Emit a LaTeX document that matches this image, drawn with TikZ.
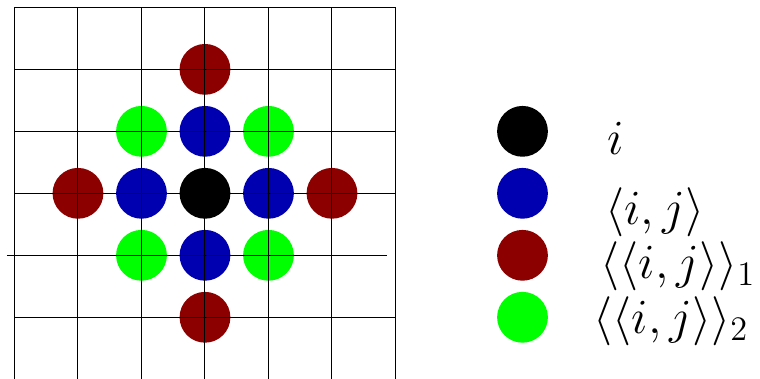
\RequirePackage{fix-cm}
\documentclass[tikz,border=0pt]{standalone}
\usepackage{amsmath}
\definecolor{nnblue}{rgb}{0,0,0.69}
\definecolor{nnred}{rgb}{0.55,0,0}
\definecolor{nngreen}{rgb}{0,1,0}
\tikzset{
  site/.style={circle, inner sep=0pt, minimum size=0.8cm},
  gridline/.style={black, line width=0.45pt},
  lbl/.style={anchor=base west, inner sep=0pt, font=\fontsize{22}{26}\selectfont}
}
\begin{document}
\begin{tikzpicture}[x=1cm, y=0.976cm]
  \useasboundingbox (-3.228,-2.98) rectangle (8.74,3.119);

  %% --- 格子上のサイト ---
  \node[site, fill=black] (c) at (0,0) {};
  %% 最近接 <i,j>
  \foreach \dx/\dy [count=\k] in {1/0, 0/1, -1/0, 0/-1}
    \node[site, fill=nnblue] (b\k) at (\dx,\dy) {};
  %% 第二近接 <<i,j>>_2
  \foreach \dx/\dy [count=\k] in {1/1, -1/1, -1/-1, 1/-1}
    \node[site, fill=nngreen] (g\k) at (\dx,\dy) {};
  %% 第三近接 <<i,j>>_1
  \foreach \dx/\dy [count=\k] in {2/0, 0/2, -2/0, 0/-2}
    \node[site, fill=nnred] (r\k) at (\dx,\dy) {};

  %% 格子線（サイトの上に引く）
  \foreach \x in {-3,...,3}
    \draw[gridline] (\x,-3) -- (\x,3);
  \foreach \y in {3,2,1,0,-2}
    \draw[gridline] (-3,\y) -- (3,\y);
  \draw[gridline] (-3.118,-1) -- (2.866,-1);

  %% --- 凡例 ---
  \node[site, fill=black]    (l0) at (5,1)  {};
  \node[site, fill=nnblue]   (l1) at (5,0)  {};
  \node[site, fill=nnred]    (l2) at (5,-1) {};
  \node[site, fill=nngreen]  (l3) at (5,-2) {};
  \node[lbl] (t0) at (6.33,0.634)  {$i$};
  \node[lbl] (t1) at (6.30,-0.495) {$\langle i,j\rangle$};
  \node[lbl] (t2) at (6.22,-1.375) {$\langle\langle i,j\rangle\rangle_1$};
  \node[lbl] (t3) at (6.11,-2.254) {$\langle\langle i,j\rangle\rangle_2$};
\end{tikzpicture}
\end{document}
